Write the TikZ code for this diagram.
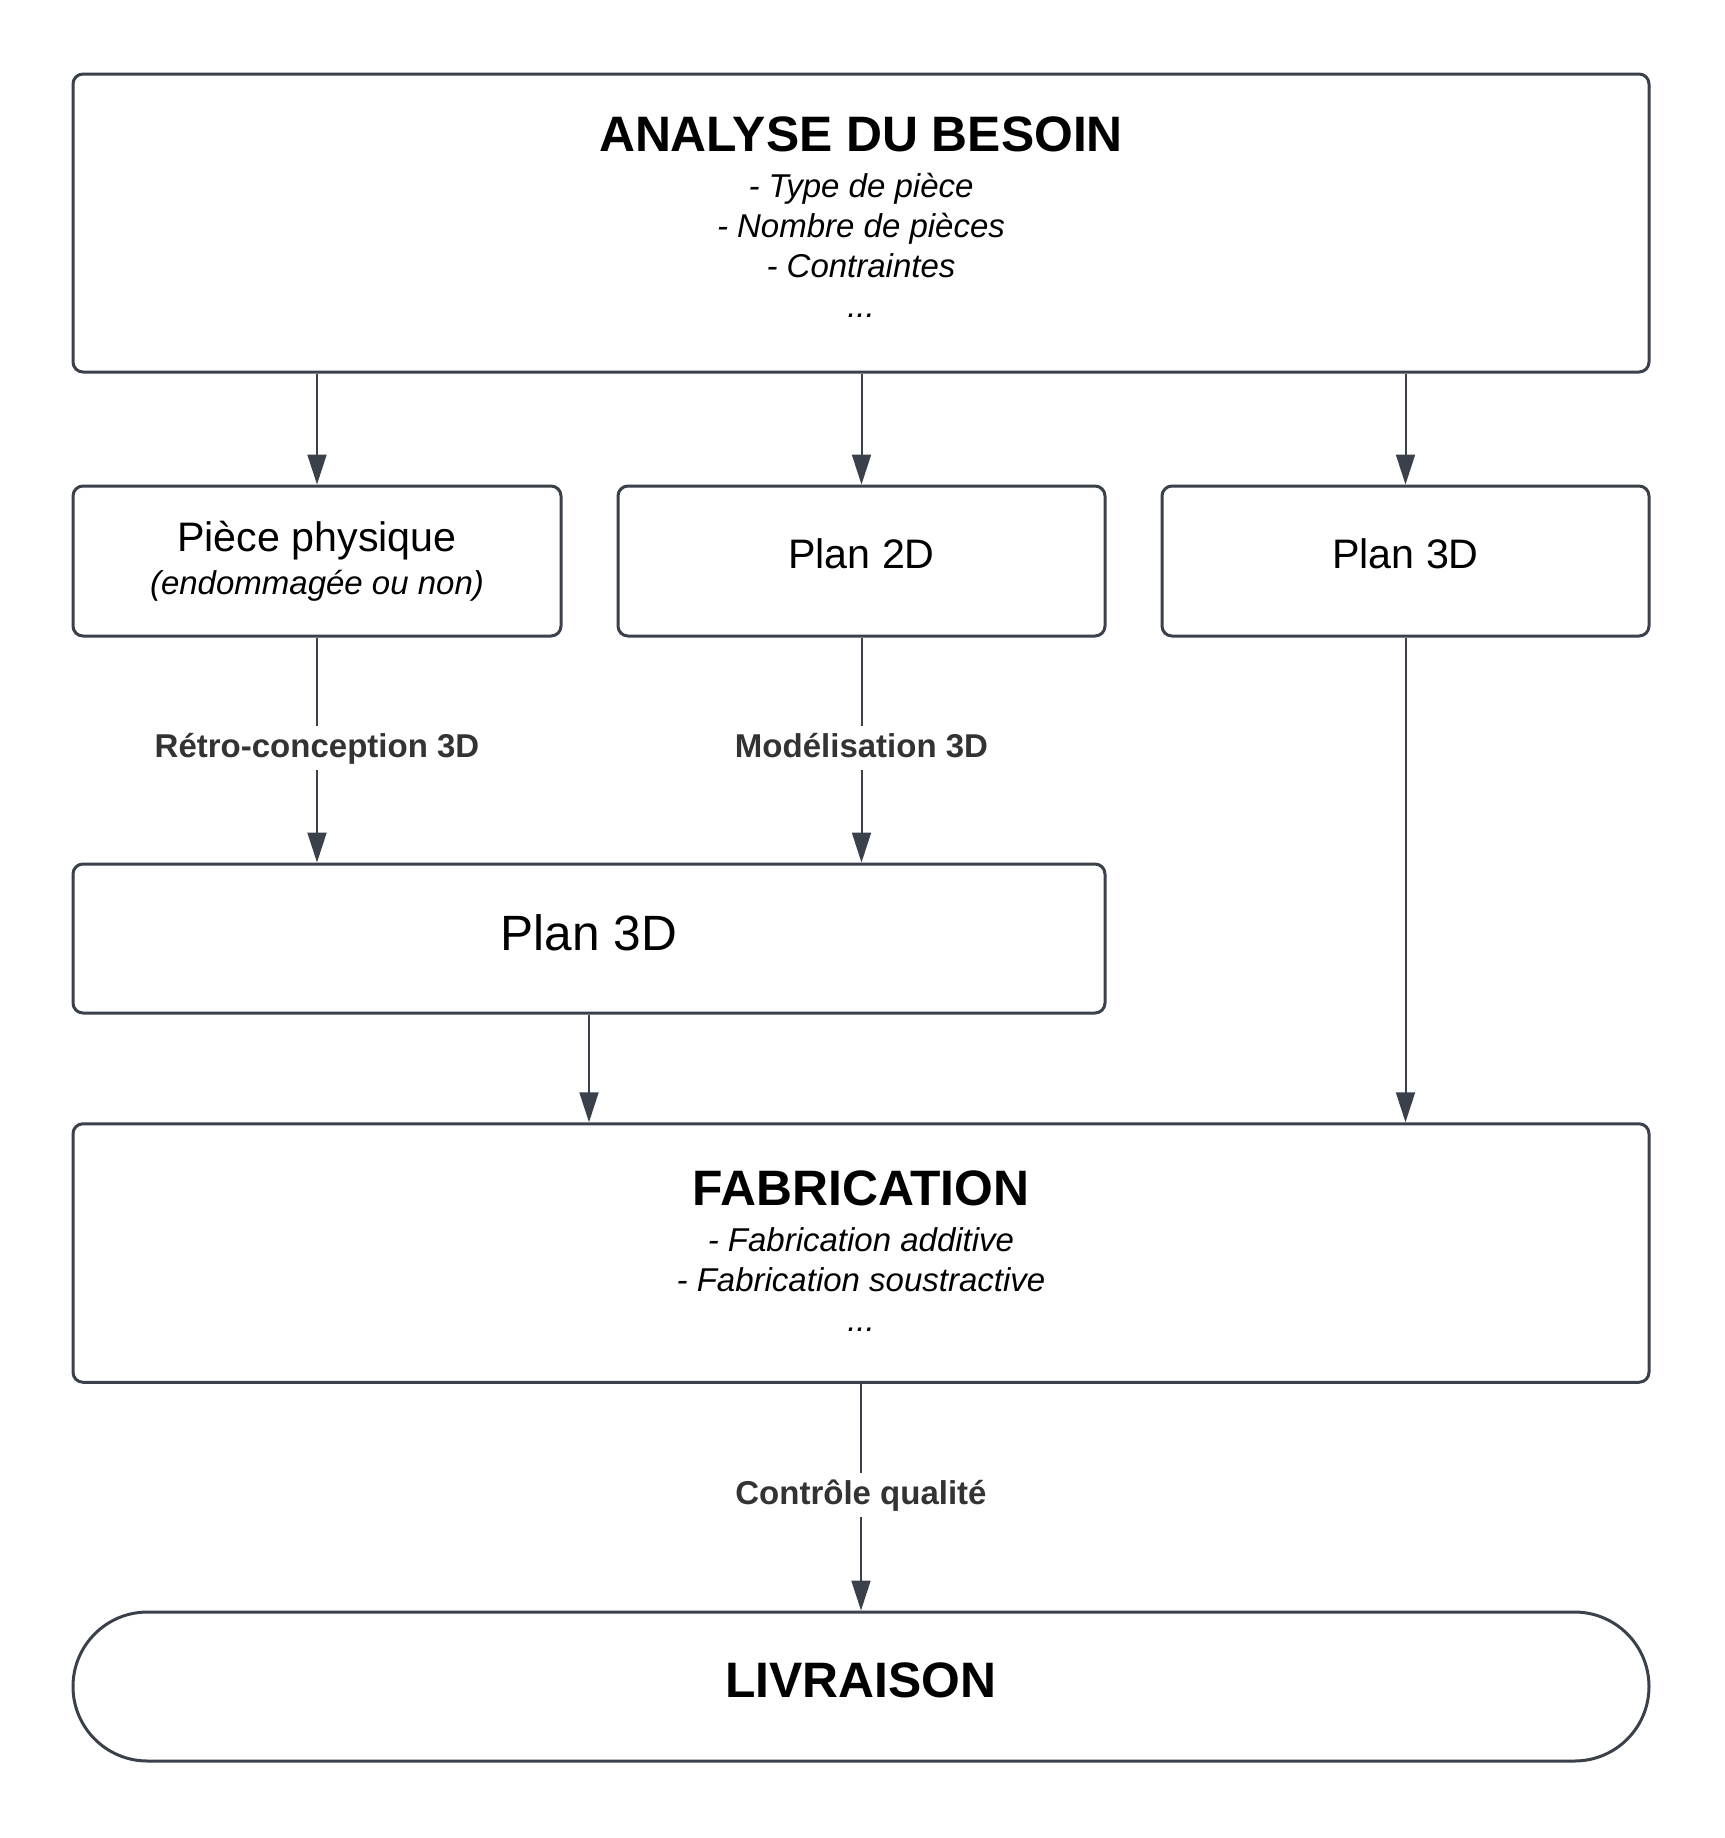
\documentclass[tikz,border=0pt]{standalone}
\usepackage{fontspec}
\setmainfont{Liberation Sans}
\usetikzlibrary{arrows.meta}
\definecolor{strokegrey}{HTML}{3A414A}
\definecolor{labelgrey}{HTML}{333333}
\newcommand{\bigtitle}{\fontsize{24.9}{29}\selectfont\upshape\bfseries}
\newcommand{\boxtext}{\fontsize{20.6}{21.5}\selectfont}
\newcommand{\plantext}{\fontsize{24.8}{29}\selectfont}
\newcommand{\listtext}{\fontsize{16.5}{20}\selectfont\itshape}
\tikzset{
	box/.style={draw=strokegrey, line width=1.5pt, rounded corners=5pt, inner sep=0pt, align=center},
	arrow/.style={draw=strokegrey, line width=1pt, -{Triangle[width=9.5pt,length=15pt]}},
	steplabel/.style={fill=white, text=labelgrey, font=\fontsize{16.5}{20}\selectfont\bfseries, inner sep=3pt, text height=12.5pt, text depth=3.5pt, yshift=1pt}
}

\begin{document}
\begin{tikzpicture}[x=0.5pt, y=-0.5pt]
		%%%%% START %%%%%
		\useasboundingbox (0,0) rectangle (1725,1838);
		
		\node[box, minimum width=788pt, minimum height=149pt, font=\listtext, text depth=6pt] (besoin) at (861,223)
			{{\bigtitle ANALYSE DU BESOIN}\\[3pt] - Type de pièce\\ - Nombre de pièces\\ - Contraintes\\ ...};
		
		\node[box, minimum width=244pt, minimum height=75pt, font=\boxtext] (piece) at (317,561)
			{Pièce physique\\{\listtext (endommagée ou non)}};
		\node[box, minimum width=243.5pt, minimum height=75pt, font=\boxtext, text depth=7pt] (plan2d) at (861.5,561) {Plan 2D};
		\node[box, minimum width=243.5pt, minimum height=75pt, font=\boxtext, text depth=7pt] (plan3da) at (1405.5,561) {Plan 3D};
		
		\node[box, minimum width=516pt, minimum height=74.5pt, font=\plantext, text depth=5.8pt] (plan3db) at (589,938.5) {Plan 3D};
		
		\node[box, minimum width=788pt, minimum height=129.25pt, font=\listtext, text depth=2.4pt] (fab) at (861,1253)
			{{\bigtitle FABRICATION}\\[3pt] - Fabrication additive\\ - Fabrication soustractive\\ ...};
		
		\node[box, rounded corners=37.25pt, minimum width=788pt, minimum height=74.5pt, font=\bigtitle, text depth=6pt] (livraison) at (861,1686.5) {LIVRAISON};
		
		\draw[arrow] (besoin.south -| piece.north) -- (piece.north);
		\draw[arrow] (besoin.south -| plan2d.north) -- (plan2d.north);
		\draw[arrow] (besoin.south -| plan3da.north) -- (plan3da.north);
		
		\draw[arrow] (piece.south) -- node[steplabel] {Rétro-conception 3D} (piece.south |- plan3db.north);
		\draw[arrow] (plan2d.south) -- node[steplabel] {Modélisation 3D} (plan2d.south |- plan3db.north);
		
		\draw[arrow] (plan3db.south) -- (plan3db.south |- fab.north);
		\draw[arrow] (plan3da.south) -- (plan3da.south |- fab.north);
		
		\draw[arrow] (fab.south) -- node[steplabel] {Contrôle qualité} (livraison.north);
		
		%%%%% END %%%%%
\end{tikzpicture}
\end{document}
